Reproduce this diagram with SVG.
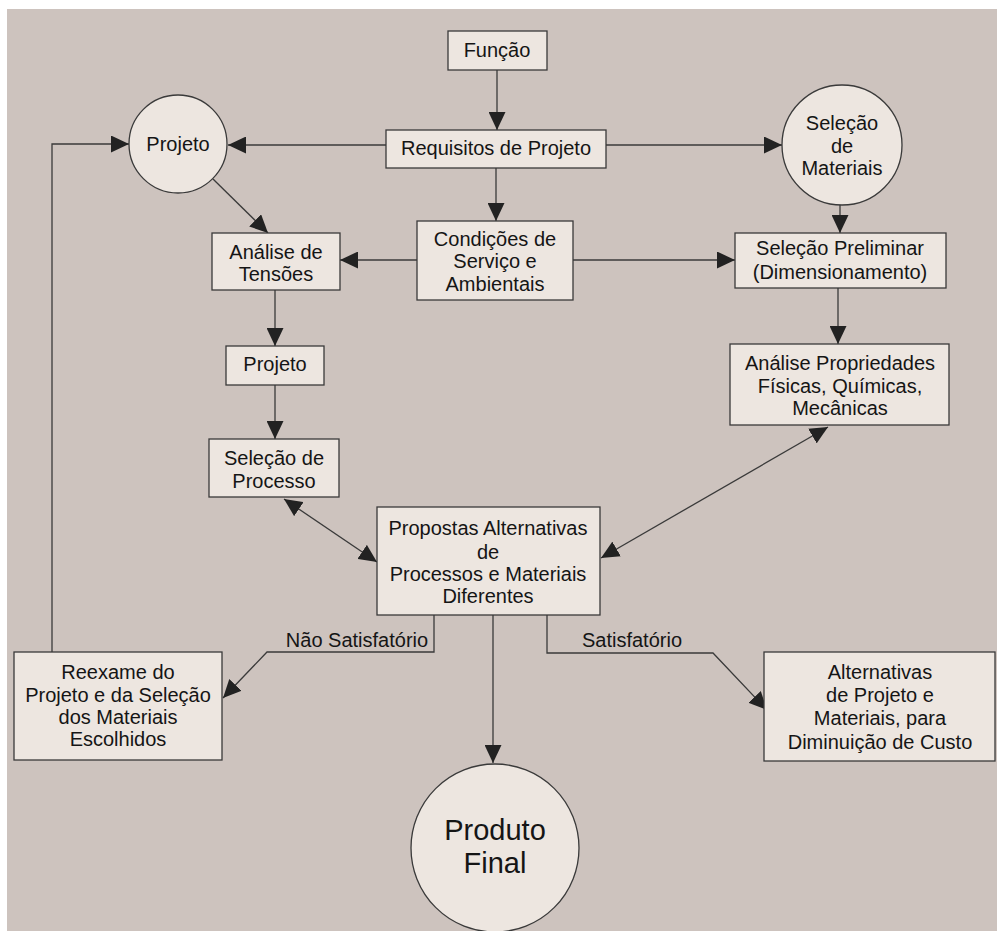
<svg xmlns="http://www.w3.org/2000/svg" width="997" height="931" viewBox="0 0 997 931">
<style>
.box{fill:#ede6e0;stroke:#3a3a3a;stroke-width:1.3}
.t{font-family:"Liberation Sans",Arial,sans-serif;font-size:20px;fill:#151515;text-anchor:middle}
.big{font-size:29px}
.c{fill:none;stroke:#3a3a3a;stroke-width:1.3}
</style>
<defs>
<marker id="arr" viewBox="0 0 18 17" refX="18" refY="8.5" markerWidth="18" markerHeight="17" markerUnits="userSpaceOnUse" orient="auto-start-reverse">
<path d="M0,0 L18,8.5 L0,17 z" fill="#222222"/>
</marker>
</defs>
<rect x="0" y="0" width="997" height="931" fill="#ffffff"/>
<rect x="7" y="9" width="990" height="922" fill="#cdc3be"/>

<g id="connectors">
<path class="c" d="M497,70 L497,130" marker-end="url(#arr)"/>
<path class="c" d="M386,145 L228,145" marker-end="url(#arr)"/>
<path class="c" d="M606,145 L782,145" marker-end="url(#arr)"/>
<path class="c" d="M496,168 L496,221" marker-end="url(#arr)"/>
<path class="c" d="M213,179 L268,233" marker-end="url(#arr)"/>
<path class="c" d="M417,260 L340,260" marker-end="url(#arr)"/>
<path class="c" d="M573,260 L735,260" marker-end="url(#arr)"/>
<path class="c" d="M840,205 L840,233" marker-end="url(#arr)"/>
<path class="c" d="M838,288 L838,344" marker-end="url(#arr)"/>
<path class="c" d="M275,290 L275,346" marker-end="url(#arr)"/>
<path class="c" d="M275,385 L275,439" marker-end="url(#arr)"/>
<path class="c" d="M284,499 L377,562" marker-start="url(#arr)" marker-end="url(#arr)"/>
<path class="c" d="M828,427 L601,558" marker-start="url(#arr)" marker-end="url(#arr)"/>
<path class="c" d="M52,652 L52,144 L129,144" marker-end="url(#arr)"/>
<path class="c" d="M434,615 L434,652 L267,652 L223,698" marker-end="url(#arr)"/>
<path class="c" d="M493,615 L493,763" marker-end="url(#arr)"/>
<path class="c" d="M547,615 L547,653 L713,653 L767,710" marker-end="url(#arr)"/>
<text class="t" x="357" y="647">Não Satisfatório</text>
<text class="t" x="632" y="647">Satisfatório</text>
</g>

<g id="funcao">
<rect class="box" x="448" y="31" width="99" height="39"/>
<text class="t" x="497" y="57">Função</text>
</g>
<g id="requisitos">
<rect class="box" x="386" y="130" width="220" height="38"/>
<text class="t" x="496" y="155">Requisitos de Projeto</text>
</g>
<g id="projeto-circulo">
<circle class="box" cx="178" cy="144" r="49"/>
<text class="t" x="178" y="151">Projeto</text>
</g>
<g id="selecao-materiais">
<circle class="box" cx="842" cy="145" r="60"/>
<text class="t" x="842" y="130">Seleção</text>
<text class="t" x="842" y="153">de</text>
<text class="t" x="842" y="175">Materiais</text>
</g>
<g id="analise-tensoes">
<rect class="box" x="212" y="233" width="128" height="57"/>
<text class="t" x="276" y="259">Análise de</text>
<text class="t" x="276" y="281">Tensões</text>
</g>
<g id="condicoes">
<rect class="box" x="417" y="221" width="156" height="79"/>
<text class="t" x="495" y="246">Condições de</text>
<text class="t" x="495" y="268">Serviço e</text>
<text class="t" x="495" y="291">Ambientais</text>
</g>
<g id="selecao-preliminar">
<rect class="box" x="735" y="233" width="211" height="55"/>
<text class="t" x="840" y="255">Seleção Preliminar</text>
<text class="t" x="840" y="279">(Dimensionamento)</text>
</g>
<g id="projeto-caixa">
<rect class="box" x="226" y="346" width="98" height="39"/>
<text class="t" x="275" y="371">Projeto</text>
</g>
<g id="analise-propriedades">
<rect class="box" x="730" y="344" width="219" height="81"/>
<text class="t" x="840" y="370">Análise Propriedades</text>
<text class="t" x="840" y="393">Físicas, Químicas,</text>
<text class="t" x="840" y="415">Mecânicas</text>
</g>
<g id="selecao-processo">
<rect class="box" x="209" y="439" width="130" height="58"/>
<text class="t" x="274" y="465">Seleção de</text>
<text class="t" x="274" y="488">Processo</text>
</g>
<g id="propostas">
<rect class="box" x="377" y="507" width="223" height="108"/>
<text class="t" x="488" y="535">Propostas Alternativas</text>
<text class="t" x="488" y="559">de</text>
<text class="t" x="488" y="581">Processos e Materiais</text>
<text class="t" x="488" y="603">Diferentes</text>
</g>
<g id="reexame">
<rect class="box" x="14" y="652" width="208" height="108"/>
<text class="t" x="118" y="679">Reexame do</text>
<text class="t" x="118" y="702">Projeto e da Seleção</text>
<text class="t" x="118" y="724">dos Materiais</text>
<text class="t" x="118" y="746">Escolhidos</text>
</g>
<g id="alternativas">
<rect class="box" x="764" y="652" width="231" height="109"/>
<text class="t" x="880" y="679">Alternativas</text>
<text class="t" x="880" y="702">de Projeto e</text>
<text class="t" x="880" y="725">Materiais, para</text>
<text class="t" x="880" y="749">Diminuição de Custo</text>
</g>
<g id="produto-final">
<circle class="box" cx="495" cy="848" r="84"/>
<text class="t big" x="495" y="840">Produto</text>
<text class="t big" x="495" y="873">Final</text>
</g>
</svg>
